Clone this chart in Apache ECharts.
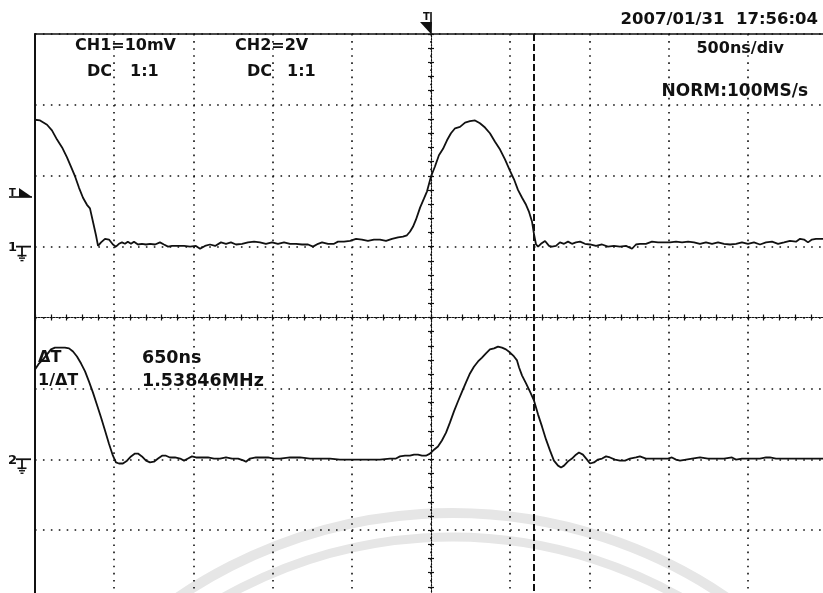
<!DOCTYPE html>
<html>
<head>
<meta charset="utf-8">
<script src="https://cdn.jsdelivr.net/npm/echarts@6.0.0/dist/echarts.min.js"></script>
<style>
  html, body { margin: 0; padding: 0; background: #ffffff; }
  #scope { width: 823px; height: 593px; }
</style>
</head>
<body>
<div id="scope"></div>
<script>
// ---- Screen settings ----------------------------------------------------
const timeRange = [-2500, 2500];        // ns, 500 ns/div, 10 divisions
const timePerDiv = 500;
const divRange = [-4, 4];               // vertical divisions
const ch1PerDiv = 10;                   // mV/div
const ch2PerDiv = 2;                    // V/div
const ch1Ground = 1;                    // ground reference position, div
const ch2Ground = -2;
const ch1TriggerLevel = 7;              // mV
const triggerTime = 0;                  // ns
const cursorTimes = [0, 650];           // ns

// ---- CH1 (mV) --------------------------------------------------------------
const ch1Time = [-2500,-2468,-2424,-2393,-2361,-2329,-2298,-2273,-2247,-2222,-2197,-2172,-2153,-2134,-2115,-2102,
  -2083,-2058,-2033,-2008,-1989,-1970,-1951,-1932,-1914,-1894,-1875,-1850,-1825,-1799,-1774,-1742,-1711,-1686,-1660,
  -1635,-1597,-1559,-1521,-1484,-1458,-1427,-1395,-1363,-1326,-1294,-1263,-1231,-1193,-1155,-1117,-1080,-1042,-1004,
  -966,-928,-890,-852,-814,-776,-745,-713,-688,-650,-612,-587,-549,-511,-473,-436,-398,-360,-322,-284,-246,-208,-177,
  -152,-133,-114,-95,-69,-44,-25,0,25,50,76,101,126,152,183,215,246,278,309,341,372,404,436,467,499,524,549,575,600,
  619,638,650,663,676,694,720,745,764,789,814,840,865,890,915,941,972,1004,1042,1080,1117,1155,1193,1231,1269,1294,
  1319,1357,1395,1433,1471,1509,1547,1585,1623,1660,1698,1736,1774,1812,1850,1888,1926,1963,2001,2039,2077,2115,2153,
  2191,2229,2266,2304,2330,2355,2380,2405,2430,2456,2500];
const ch1mV = [17.9,17.8,17.2,16.4,15.1,14.0,12.6,11.3,9.9,8.3,6.9,5.9,5.4,3.5,1.6,0.1,
  0.6,1.1,1.0,0.3,0.0,0.4,0.6,0.4,0.7,0.4,0.7,0.3,0.4,0.3,0.4,0.3,0.6,0.3,0.0,
  0.1,0.1,0.1,0.0,0.1,-0.3,0.1,0.3,0.1,0.6,0.4,0.6,0.3,0.4,0.6,0.7,0.6,0.4,0.6,
  0.4,0.6,0.4,0.4,0.3,0.3,0.0,0.4,0.6,0.4,0.4,0.7,0.7,0.8,1.1,1.0,0.8,1.0,1.0,0.8,1.1,1.3,1.4,
  1.6,2.1,2.8,3.8,5.5,6.8,7.8,9.9,11.3,12.9,13.8,15.0,16.0,16.7,16.9,17.5,17.7,17.8,17.4,16.8,16.0,14.8,13.7,12.3,10.7,9.5,8.0,6.9,5.9,
  4.9,3.5,1.8,0.3,0.0,0.4,0.8,0.1,0.0,0.1,0.6,0.4,0.7,0.4,0.6,0.7,0.4,0.3,0.1,0.3,0.0,0.1,0.0,0.1,-0.3,0.3,
  0.4,0.4,0.7,0.6,0.6,0.6,0.7,0.6,0.7,0.6,0.4,0.6,0.4,0.6,0.4,0.3,0.4,0.6,0.4,0.6,0.3,0.6,0.7,
  0.4,0.6,0.8,0.7,1.1,1.0,0.6,1.0,1.1,1.1,1.1];

// ---- CH2 (V) ---------------------------------------------------------------
const ch2Time = [-2500,-2475,-2449,-2424,-2399,-2374,-2342,-2311,-2285,-2260,-2235,-2209,-2184,-2159,-2134,-2109,
  -2083,-2058,-2033,-2008,-1989,-1970,-1945,-1919,-1894,-1869,-1850,-1825,-1799,-1774,-1749,-1723,-1698,-1673,-1648,
  -1616,-1584,-1559,-1534,-1509,-1484,-1446,-1408,-1370,-1332,-1294,-1256,-1218,-1181,-1168,-1143,-1105,-1067,-1029,
  -991,-953,-890,-827,-764,-701,-638,-575,-511,-448,-385,-322,-259,-221,-196,-164,-133,-107,-82,-57,-32,-6,19,44,69,
  95,120,145,170,196,221,246,271,297,322,347,372,398,423,448,473,499,524,543,556,575,600,625,650,676,701,726,751,776,
  802,821,840,865,890,915,934,959,985,1004,1029,1054,1080,1105,1130,1162,1193,1225,1256,1294,1319,1357,1395,1446,
  1496,1521,1547,1572,1610,1648,1698,1749,1799,1850,1900,1926,1963,2014,2077,2115,2140,2178,2266,2393,2500];
const ch2V = [2.53,2.70,2.82,2.96,3.10,3.15,3.15,3.15,3.13,3.04,2.90,2.70,2.48,2.19,1.88,1.54,
  1.18,0.81,0.44,0.10,-0.09,-0.12,-0.12,-0.04,0.08,0.16,0.16,0.08,-0.04,-0.09,-0.07,0.02,0.10,0.10,0.05,
  0.05,0.02,-0.04,0.02,0.08,0.05,0.05,0.05,0.02,0.02,0.05,0.02,0.02,-0.04,-0.07,0.02,0.05,0.05,0.05,
  0.02,0.02,0.05,0.05,0.02,0.02,0.02,-0.01,-0.01,-0.01,-0.01,-0.01,0.02,0.02,0.08,0.10,0.10,0.13,0.13,0.10,0.10,0.16,0.27,0.36,0.53,
  0.75,1.04,1.35,1.63,1.91,2.17,2.42,2.61,2.76,2.87,2.99,3.10,3.13,3.18,3.15,3.10,3.01,2.90,2.79,2.59,2.36,2.14,1.91,1.66,1.26,0.92,0.56,0.25,-0.04,
  -0.18,-0.23,-0.18,-0.06,0.02,0.13,0.19,0.13,-0.01,-0.12,-0.09,-0.01,0.02,0.08,0.05,-0.01,-0.04,-0.04,0.02,0.05,0.08,0.02,0.02,0.02,
  0.02,0.05,-0.01,-0.04,-0.01,0.02,0.05,0.02,0.02,0.02,0.05,-0.01,0.02,0.02,0.02,0.05,0.05,0.02,0.02,0.02,0.02];

// ---- Readout texts ---------------------------------------------------------
const ch1Label = 'CH1=10mV';
const ch2Label = 'CH2=2V';
const couplingLabel = 'DC';
const probeLabel = '1:1';
const dateLabel = '2007/01/31  17:56:04';
const timebaseLabel = '500ns/div';
const acquireLabel = 'NORM:100MS/s';
const deltaLabel = 'ΔT';
const invDeltaLabel = '1/ΔT';
const deltaValue = (cursorTimes[1] - cursorTimes[0]) + 'ns';
const freqValue = (1000 / (cursorTimes[1] - cursorTimes[0])).toFixed(5) + 'MHz';

// ---- Chart ---------------------------------------------------------------------
const FONT = '"DejaVu Sans", "Liberation Sans", sans-serif';
const INK = '#111111';
const rect = { left: 35, top: 34, right: -4, bottom: -8, outerBoundsMode: 'none' };

const toDiv = (vals, perDiv, ground, times) => times.map((t, i) => [t, vals[i] / perDiv + ground]);

const hidden = { show: false };
function centreAxis(dim, gridIndex, inside) {
  const isX = dim === 'x';
  return {
    type: 'value', gridIndex,
    min: isX ? timeRange[0] : divRange[0],
    max: isX ? timeRange[1] : divRange[1],
    interval: isX ? timePerDiv / 5 : 0.2,
    axisLine: { show: true, onZero: true, lineStyle: { color: INK, width: 1.1, type: [1.5, 1.5] } },
    axisTick: { show: true, inside, length: 3, lineStyle: { color: INK, width: 1.2 } },
    axisLabel: hidden, splitLine: hidden
  };
}

const chart = echarts.init(document.getElementById('scope'), null, { renderer: 'canvas' });
chart.setOption({
  animation: false,
  backgroundColor: '#ffffff',
  grid: [Object.assign({}, rect), Object.assign({}, rect), Object.assign({}, rect)],
  xAxis: [
    {
      type: 'value', gridIndex: 0, position: 'top',
      min: timeRange[0], max: timeRange[1], interval: timePerDiv,
      axisLine: { show: true, onZero: false, lineStyle: { color: INK, width: 1.5 } },
      axisTick: hidden, axisLabel: hidden,
      splitLine: { show: true, lineStyle: { color: INK, width: 1.6, type: [1.6, 5.49] } }
    },
    centreAxis('x', 1, true),
    centreAxis('x', 2, false)
  ],
  yAxis: [
    {
      type: 'value', gridIndex: 0, position: 'left',
      min: divRange[0], max: divRange[1], interval: 1,
      axisLine: { show: true, onZero: false, lineStyle: { color: INK, width: 2 } },
      axisTick: hidden, axisLabel: hidden,
      splitLine: { show: true, lineStyle: { color: INK, width: 1.6, type: [1.6, 6.32] } }
    },
    centreAxis('y', 1, true),
    centreAxis('y', 2, false)
  ],
  series: [
    {
      name: 'CH1', type: 'line', xAxisIndex: 0, yAxisIndex: 0,
      data: toDiv(ch1mV, ch1PerDiv, ch1Ground, ch1Time),
      showSymbol: false, symbol: 'none', clip: true, z: 5,
      lineStyle: { color: INK, width: 1.8 },
      markLine: {
        silent: true, symbol: 'none', label: hidden,
        lineStyle: { color: INK, width: 2, type: [7, 3] },
        data: [{ xAxis: cursorTimes[1] }]
      }
    },
    {
      name: 'CH2', type: 'line', xAxisIndex: 0, yAxisIndex: 0,
      data: toDiv(ch2V, ch2PerDiv, ch2Ground, ch2Time),
      showSymbol: false, symbol: 'none', clip: true, z: 5,
      lineStyle: { color: INK, width: 1.8 }
    }
  ]
});

// ---- Readouts, markers and the faint background emblem --------------------------
const px = (t, d) => chart.convertToPixel({ gridIndex: 0 }, [t, d]);
const txt = (text, x, y, size, align) => ({
  type: 'text', x, y, z: 20, silent: true,
  style: { text, fill: INK, font: 'bold ' + size + 'px ' + FONT, align: align || 'left', verticalAlign: 'middle' }
});
const seg = (x1, y1, x2, y2, w) => ({
  type: 'line', z: 20, silent: true,
  shape: { x1, y1, x2, y2 }, style: { stroke: INK, lineWidth: w || 1.5 }
});
const tri = (points) => ({ type: 'polygon', z: 20, silent: true, shape: { points }, style: { fill: INK } });

function groundMark(label, yPix) {
  return [
    txt(label, 8, yPix + 1, 13),
    seg(16, yPix, 31, yPix, 1.8),
    seg(22, yPix, 22, yPix + 10, 1.8),
    seg(17.5, yPix + 9, 26.5, yPix + 9, 1.6),
    seg(19, yPix + 11.5, 25, yPix + 11.5, 1.4),
    seg(20.5, yPix + 14, 23.5, yPix + 14, 1.4)
  ];
}

const g1 = px(0, ch1Ground)[1];
const g2 = px(0, ch2Ground)[1];
const trigY = px(0, ch1TriggerLevel / ch1PerDiv + ch1Ground)[1];
const trigX = px(triggerTime, 0)[0];
const screenTop = px(0, divRange[1])[1];

const graphics = [
  // background emblem
  { type: 'arc', z: -10, silent: true, shape: { cx: 452, cy: 1000, r: 487, startAngle: Math.PI * 1.1, endAngle: Math.PI * 1.9 },
    style: { fill: 'none', stroke: '#e6e6e6', lineWidth: 10 } },
  { type: 'arc', z: -10, silent: true, shape: { cx: 452, cy: 1000, r: 463, startAngle: Math.PI * 1.1, endAngle: Math.PI * 1.9 },
    style: { fill: 'none', stroke: '#e6e6e6', lineWidth: 9 } },

  // header readouts
  txt(ch1Label, 75, 46, 16),
  txt(couplingLabel, 87, 72, 16), txt(probeLabel, 130, 72, 16),
  txt(ch2Label, 235, 46, 16),
  txt(couplingLabel, 247, 72, 16), txt(probeLabel, 287, 72, 16),
  txt(dateLabel, 818, 20, 16.5, 'right'),
  txt(timebaseLabel, 784, 49, 16, 'right'),
  txt(acquireLabel, 808, 92, 17, 'right'),

  // cursor measurement
  txt(deltaLabel, 38, 358, 16), txt(invDeltaLabel, 38, 381, 16),
  txt(deltaValue, 142, 358, 17.5), txt(freqValue, 142, 381, 17.5),

  // trigger position marker
  seg(trigX, screenTop - 22, trigX, screenTop - 1, 1.6),
  tri([[trigX - 11, screenTop - 12], [trigX + 1, screenTop - 12], [trigX, screenTop]]),
  txt('T', trigX - 8, screenTop - 17, 10),

  // CH1 trigger level marker
  seg(9, trigY, 32, trigY, 1.6),
  tri([[19, trigY - 9], [19, trigY], [32, trigY]]),
  txt('T', 9, trigY - 4, 10)
].concat(groundMark('1', g1), groundMark('2', g2));

chart.setOption({ graphic: graphics });
</script>
</body>
</html>
